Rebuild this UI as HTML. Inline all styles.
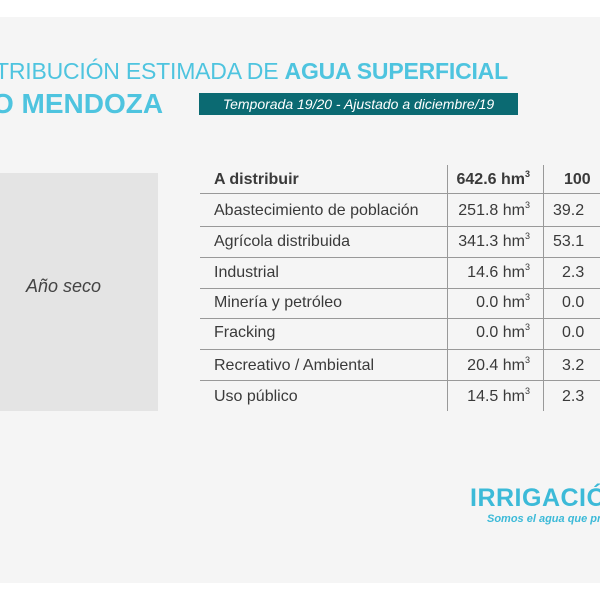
<!DOCTYPE html>
<html><head><meta charset="utf-8"><style>
body{margin:0;width:600px;height:600px;background:#fff;position:relative;overflow:hidden;font-family:"Liberation Sans",sans-serif}
.bg{position:absolute;left:0;top:17px;width:600px;height:566px;background:#f5f5f5}
.a{position:absolute;white-space:nowrap}
.t1{left:-5px;top:58px;font-size:23px;color:#4ec4df;letter-spacing:-0.2px}
.t2{left:-8px;top:88px;font-size:28px;font-weight:bold;color:#4ec4df}
.ban{left:199px;top:93px;width:319px;height:22px;background:#0b6a72;color:#fff;font-style:italic;font-size:14px;line-height:22px;text-align:center}
.box{left:0;top:173px;width:158px;height:238px;background:#e4e4e4}
.ano{left:26px;top:276px;font-style:italic;font-size:18px;color:#444}
.h{position:absolute;left:200px;width:400px;height:1px;background:#999}
.v{position:absolute;top:165px;height:246px;width:1px;background:#999}
.r{position:absolute;left:214px;font-size:16px;color:#3a3a3a;width:386px;height:20px;line-height:20px;overflow:hidden}
.r span{position:absolute;white-space:nowrap}
.c2{right:70px;text-align:right}
sup{font-size:9px;vertical-align:0;position:relative;top:-7px}
</style></head><body>
<div class="bg"></div>
<div class="a t1">TRIBUCIÓN ESTIMADA DE <b>AGUA SUPERFICIAL</b></div>
<div class="a t2">O MENDOZA</div>
<div class="a ban">Temporada 19/20 - Ajustado a diciembre/19</div>
<div class="a box"></div>
<div class="a ano">Año seco</div>
<div class="h" style="top:193px"></div>
<div class="h" style="top:226px"></div>
<div class="h" style="top:257px"></div>
<div class="h" style="top:288px"></div>
<div class="h" style="top:318px"></div>
<div class="h" style="top:349px"></div>
<div class="h" style="top:380px"></div>
<div class="v" style="left:447px"></div>
<div class="v" style="left:543px"></div>
<div class="r" style="top:170px;font-weight:bold"><span>A distribuir</span><span class="c2">642.6 hm<sup>3</sup></span><span style="left:350px">100</span></div>
<div class="r" style="top:201px"><span>Abastecimiento de población</span><span class="c2">251.8 hm<sup>3</sup></span><span style="left:339px">39.2</span></div>
<div class="r" style="top:232px"><span>Agrícola distribuida</span><span class="c2">341.3 hm<sup>3</sup></span><span style="left:339px">53.1</span></div>
<div class="r" style="top:263px"><span>Industrial</span><span class="c2">14.6 hm<sup>3</sup></span><span style="left:348px">2.3</span></div>
<div class="r" style="top:293px"><span>Minería y petróleo</span><span class="c2">0.0 hm<sup>3</sup></span><span style="left:348px">0.0</span></div>
<div class="r" style="top:323px"><span>Fracking</span><span class="c2">0.0 hm<sup>3</sup></span><span style="left:348px">0.0</span></div>
<div class="r" style="top:356px"><span>Recreativo / Ambiental</span><span class="c2">20.4 hm<sup>3</sup></span><span style="left:348px">3.2</span></div>
<div class="r" style="top:387px"><span>Uso público</span><span class="c2">14.5 hm<sup>3</sup></span><span style="left:348px">2.3</span></div>
<div class="a" style="left:470px;top:484px;font-size:25px;font-weight:bold;color:#3cbad8;letter-spacing:0.5px">IRRIGACIÓ</div>
<div class="a" style="left:487px;top:513px;font-size:11px;font-style:italic;font-weight:bold;color:#3cbad8">Somos el agua que produ</div>
</body></html>
